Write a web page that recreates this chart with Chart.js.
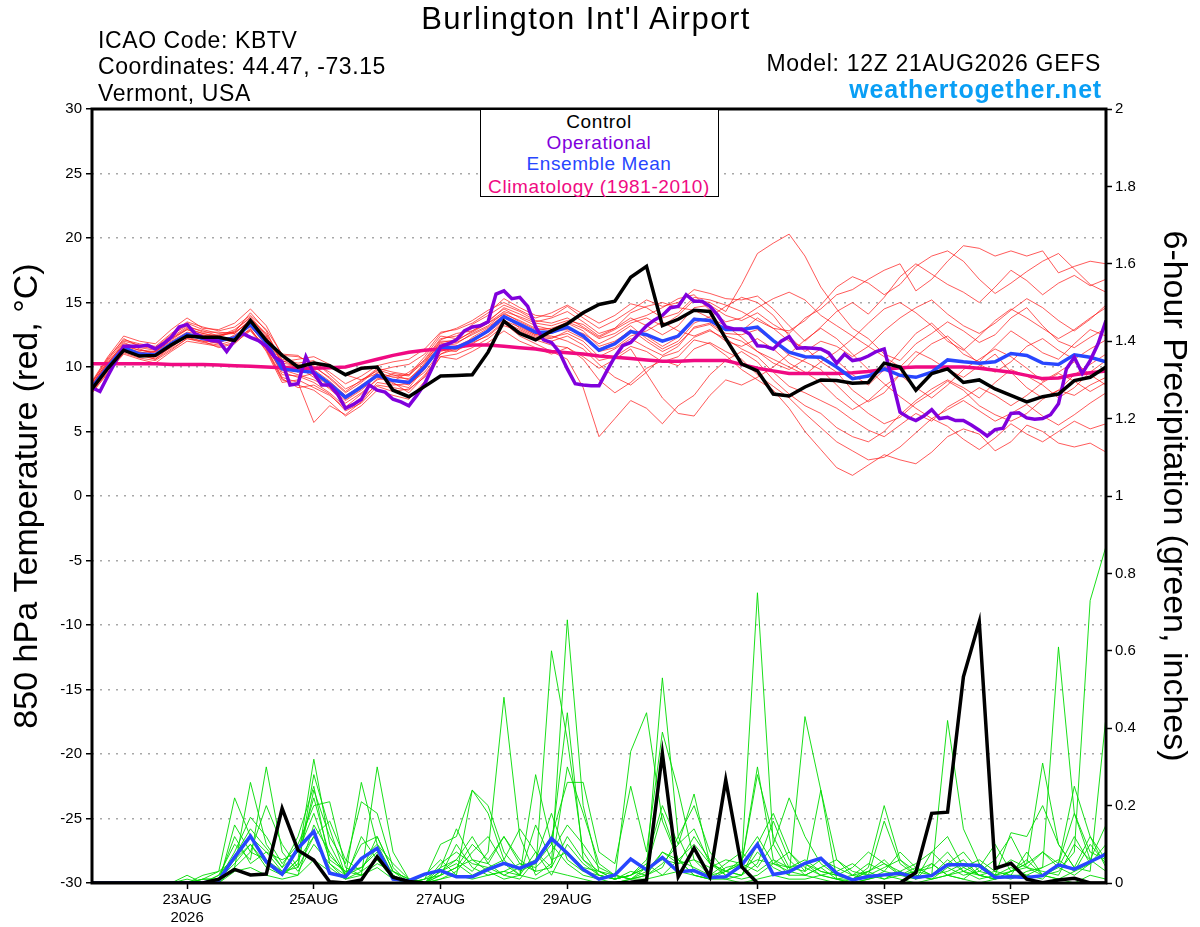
<!DOCTYPE html>
<html lang="en">
<head>
<meta charset="UTF-8">
<title>Burlington Int'l Airport - GEFS 850 hPa temperature and precipitation</title>
<script src="https://cdn.jsdelivr.net/npm/chart.js@4.4.1/dist/chart.umd.min.js"></script>
<style>
  html, body { margin: 0; padding: 0; background: #fff; }
  #wrap { position: relative; width: 1200px; height: 927px; font-family: "Liberation Sans", Arial, sans-serif; color: #000; overflow: hidden; }
  #wrap canvas { position: absolute; left: 0; top: 0; }
  .txt { position: absolute; white-space: nowrap; line-height: 1; }
  .title { left: 586px; top: 3px; font-size: 31px; letter-spacing: 1.5px; transform: translateX(-50%); }
  .info { left: 98px; font-size: 23px; letter-spacing: 0.6px; }
  .right { right: 99px; font-size: 23px; letter-spacing: 0.7px; }
  .site { right: 98px; top: 77px; font-size: 25px; font-weight: bold; letter-spacing: 0.8px; color: #0a9ff5; }
  #legendBox { position: absolute; left: 480px; top: 109px; width: 237px; height: 86px; border: 1px solid #000; background: #fff; }
  .leg { left: 599px; font-size: 19px; letter-spacing: 0.6px; transform: translateX(-50%); }
</style>
</head>
<body>
<div id="wrap">
  <canvas id="chart" width="1200" height="927"></canvas>

  <div class="txt title">Burlington Int'l Airport</div>
  <div class="txt info" style="top:29px">ICAO Code: KBTV</div>
  <div class="txt info" style="top:55px">Coordinates: 44.47, -73.15</div>
  <div class="txt info" style="top:82px">Vermont, USA</div>
  <div class="txt right" style="top:52px">Model: 12Z 21AUG2026 GEFS</div>
  <div class="txt site">weathertogether.net</div>

  <div id="legendBox"></div>
  <div class="txt leg" style="top:112px;color:#000">Control</div>
  <div class="txt leg" style="top:133px;color:#8000dc">Operational</div>
  <div class="txt leg" style="top:154px;color:#2846ff">Ensemble Mean</div>
  <div class="txt leg" style="top:177px;color:#f00a82">Climatology (1981-2010)</div>
</div>

<script>
    // time axis: hours after 12Z 21AUG2026, members every 6 h, operational every 3 h
    var memberStep = 6;
    var opStep = 3;
    var tickHours = [36, 84, 132, 180, 252, 300, 348];
    var tickLabels = [['23AUG', '2026'], '25AUG', '27AUG', '29AUG', '1SEP', '3SEP', '5SEP'];

    // 850 hPa temperature (C)
    var controlTemp = [8.3, 9.9, 11.3, 10.85, 10.9, 11.7, 12.4, 12.3, 12.3, 12.05, 13.6, 12.05,
        10.9, 10.0, 10.3, 10.1, 9.4, 9.9, 10.0, 8.2, 7.7, 8.5, 9.3,
        9.35, 9.4, 11.15, 13.55, 12.6, 12.1, 12.8, 13.35, 14.2, 14.85, 15.1, 16.95, 17.8, 13.2, 13.7, 14.4, 14.3, 12.2, 10.25, 9.7, 7.9, 7.75,
        8.45, 9.0, 8.95, 8.75, 8.8, 10.3, 10.0, 8.2, 9.5, 9.85, 8.8, 9.0, 8.3, 7.8, 7.3, 7.7, 7.9, 8.95, 9.2, 10.0];

    var meanTemp = [8.45, 10.0, 11.5, 11.0, 10.95, 11.8, 12.55, 12.2, 12.05, 12.25, 13.3, 11.9,
        9.85, 9.7, 9.6, 8.7, 7.65, 8.45, 9.35, 8.95, 8.8, 10.0, 11.55,
        11.5, 12.05, 12.8, 13.9, 13.3, 12.7, 12.7, 13.1, 12.4, 11.3, 11.8, 12.75, 12.5, 12.0, 12.4, 13.7, 13.6, 12.9, 12.9, 13.1, 12.05, 11.15,
        10.8, 10.75, 10.0, 9.1, 9.3, 9.85, 9.35, 9.2, 9.6, 10.55, 10.4, 10.3, 10.4, 11.05, 10.9, 10.3, 10.2, 10.95, 10.75, 10.4];

    var climTemp = [10.25, 10.25, 10.25, 10.25, 10.25, 10.2, 10.2, 10.2, 10.15, 10.1, 10.05, 10.0,
        9.95, 9.9, 9.9, 9.95, 10.0, 10.3, 10.6, 10.9, 11.15, 11.3, 11.4,
        11.55, 11.7, 11.7, 11.6, 11.5, 11.4, 11.2, 11.1, 11.0, 10.85, 10.75, 10.65, 10.55, 10.45, 10.45, 10.5, 10.5, 10.5, 10.2, 9.9, 9.7, 9.5,
        9.5, 9.5, 9.5, 9.55, 9.65, 9.8, 9.95, 10.0, 10.0, 10.0, 10.0, 9.9, 9.75, 9.6, 9.35, 9.1, 9.15, 9.4, 9.55, 9.7];

    var opTemp = [8.4, 8.1, 9.3, 10.45, 11.6, 11.6, 11.6, 11.7, 11.4, 11.8, 12.3, 13.1, 13.3, 12.6, 12.3, 12.05,
        12.0, 11.2, 12.05, 12.6, 12.3, 12.05, 11.6, 10.8, 10.4, 8.6, 8.7, 10.8, 9.5, 8.6, 8.6, 7.9,
        6.8, 7.1, 7.5, 8.6, 8.2, 8.05, 7.5, 7.3, 7.0, 7.8, 8.7, 10.0, 11.6, 11.8, 12.1, 12.8,
        13.1, 13.2, 13.5, 15.65, 15.9, 15.3, 15.4, 14.7, 13.1, 12.1, 11.9, 11.15, 9.85, 8.7, 8.6, 8.55,
        8.55, 9.7, 10.8, 11.65, 11.9, 12.55, 13.2, 13.65, 14.0, 14.6, 14.7, 15.6, 15.1, 15.1, 14.7, 14.0,
        13.1, 12.95, 12.95, 12.55, 11.65, 11.6, 11.4, 12.0, 12.35, 11.45, 11.5, 11.45, 11.4, 11.1, 10.3, 11.0,
        10.5, 10.6, 10.85, 11.2, 11.4, 9.0, 6.5, 6.1, 5.85, 6.2, 6.7, 6.0, 6.1, 5.85, 5.85, 5.5,
        5.1, 4.65, 5.15, 5.25, 6.4, 6.45, 6.05, 5.95, 6.0, 6.3, 7.15, 9.85, 10.75, 9.5, 10.5, 11.8, 13.6];

    var tempMembers = [
        [8.5, 10.3, 11.9, 11.4, 11.0, 12.2, 13.0, 12.6, 12.3, 12.8, 13.9, 12.5, 10.5, 10.0, 9.2, 8.3, 7.2, 8.0, 9.0, 9.5, 9.3, 10.6, 12.2,
         12.4, 13.0, 13.6, 14.5, 13.8, 13.2, 12.9, 13.5, 13.0, 12.2, 12.6, 13.4, 13.8, 13.2, 14.0, 15.2, 15.0, 14.3, 16.4, 18.8, 19.6, 20.3,
         18.6, 16.2, 14.5, 13.0, 12.2, 11.0, 10.5, 11.8, 12.6, 13.5, 12.8, 11.9, 12.5, 13.8, 14.6, 13.2, 12.0, 11.5, 12.3, 13.0],
        [8.0, 9.6, 11.0, 10.6, 10.3, 11.2, 12.0, 11.8, 11.6, 11.9, 12.8, 11.3, 9.0, 8.6, 8.2, 7.3, 6.2, 7.0, 8.2, 7.8, 7.5, 8.9, 10.8,
         11.0, 11.5, 12.2, 13.2, 12.8, 12.2, 12.0, 12.4, 11.7, 10.5, 10.8, 11.6, 11.2, 10.4, 10.8, 12.1, 11.8, 10.9, 9.8, 9.0, 8.2, 6.8,
         5.0, 3.6, 2.2, 1.6, 2.4, 3.2, 2.8, 2.5, 3.4, 4.6, 5.2, 4.8, 3.5, 4.2, 5.5, 5.0, 4.1, 3.8, 4.1, 3.4],
        [8.8, 10.6, 12.2, 11.6, 11.4, 12.4, 13.4, 12.9, 12.6, 12.7, 14.2, 12.8, 10.2, 9.6, 10.1, 9.1, 8.0, 8.8, 9.8, 9.4, 9.0, 10.3, 12.0,
         12.0, 12.8, 13.5, 14.6, 14.1, 13.5, 13.8, 14.3, 13.5, 12.6, 13.0, 13.8, 13.2, 12.5, 13.2, 14.6, 14.8, 14.0, 13.6, 14.2, 13.3, 12.6,
         13.8, 14.5, 15.6, 16.0, 16.8, 17.5, 18.0, 15.9, 16.8, 18.2, 19.4, 19.2, 18.6, 19.0, 18.6, 19.0, 17.3, 17.8, 18.2, 18.0],
        [8.3, 9.9, 11.3, 10.9, 10.6, 11.6, 12.3, 12.0, 11.9, 12.4, 13.2, 11.6, 9.6, 9.2, 9.5, 8.6, 7.5, 8.3, 9.6, 9.2, 9.1, 10.1, 11.3,
         11.2, 12.3, 13.0, 14.0, 13.0, 12.4, 12.3, 12.6, 12.0, 10.8, 11.4, 12.2, 11.5, 10.9, 11.6, 13.1, 13.4, 12.6, 12.5, 12.9, 12.0, 10.9,
         10.4, 9.8, 8.6, 7.4, 6.4, 5.6, 6.1, 7.2, 8.0, 8.9, 8.2, 7.0, 6.3, 5.8, 6.4, 7.5, 8.2, 7.8, 8.6, 9.2],
        [8.9, 10.8, 12.4, 12.0, 11.8, 12.9, 13.8, 13.0, 12.9, 13.4, 14.5, 13.2, 10.9, 10.8, 10.3, 9.6, 8.7, 9.3, 10.1, 10.4, 10.6, 11.4, 12.7,
         12.9, 13.4, 14.2, 15.3, 14.6, 14.0, 13.9, 14.7, 13.8, 13.0, 13.6, 14.4, 15.2, 14.7, 15.0, 16.0, 15.7, 15.3, 15.2, 15.5, 14.5, 13.2,
         12.0, 13.1, 14.3, 15.0, 14.1, 15.4, 17.0, 18.0, 17.2, 16.4, 15.8, 15.0, 16.2, 17.5, 16.7, 15.6, 16.5, 17.1, 16.3, 16.8],
        [8.1, 9.7, 11.4, 11.2, 10.8, 11.5, 12.4, 12.3, 12.2, 12.0, 13.0, 11.2, 8.8, 9.0, 8.4, 7.8, 6.8, 7.6, 8.6, 8.4, 8.2, 9.4, 11.0,
         11.4, 11.9, 12.4, 13.4, 12.4, 11.8, 11.2, 10.6, 8.4, 4.6, 6.0, 7.4, 6.8, 5.6, 7.0, 7.8, 9.4, 10.5, 11.2, 10.4, 9.0, 7.9,
         7.0, 6.4, 5.3, 4.6, 4.2, 5.0, 6.3, 7.4, 8.3, 9.0, 8.4, 7.6, 8.8, 9.8, 9.3, 8.6, 7.6, 8.4, 9.6, 10.5],
        [8.6, 10.1, 11.6, 11.1, 11.2, 12.0, 12.7, 12.5, 12.1, 12.2, 13.5, 12.1, 10.0, 10.2, 9.8, 8.9, 7.8, 8.5, 9.2, 9.0, 8.6, 9.8, 11.6,
         11.8, 12.6, 13.2, 14.2, 13.5, 12.9, 13.0, 13.4, 12.8, 11.6, 12.0, 12.8, 12.4, 11.6, 12.3, 13.8, 13.5, 13.0, 12.8, 13.8, 13.0, 12.0,
         11.5, 10.4, 9.6, 8.2, 7.3, 8.0, 9.4, 10.8, 11.8, 12.4, 11.4, 10.2, 9.6, 10.4, 11.6, 12.2, 11.3, 10.6, 11.4, 12.1],
        [8.4, 10.2, 11.8, 11.5, 11.3, 12.1, 12.9, 12.4, 12.5, 12.6, 13.6, 12.3, 10.4, 10.6, 10.8, 10.2, 9.4, 9.0, 9.5, 8.8, 8.0, 9.3, 11.0,
         11.6, 12.0, 12.7, 13.6, 13.1, 12.5, 12.6, 13.1, 12.4, 11.2, 11.5, 12.4, 12.8, 13.5, 12.8, 12.4, 12.9, 12.0, 11.6, 12.2, 11.4, 10.3,
         9.6, 8.8, 7.6, 6.7, 7.4, 8.5, 9.4, 8.4, 7.6, 8.6, 9.8, 10.6, 11.4, 10.8, 9.9, 8.9, 9.6, 10.4, 9.4, 8.6],
        [8.2, 9.8, 11.2, 10.8, 10.9, 11.9, 12.6, 12.1, 11.8, 12.5, 13.1, 11.8, 9.4, 9.3, 8.8, 8.0, 6.9, 7.9, 9.1, 8.9, 9.6, 10.5, 12.1,
         12.6, 12.8, 13.4, 14.1, 13.6, 13.0, 12.8, 12.9, 12.6, 11.8, 12.4, 13.2, 12.2, 11.4, 12.0, 13.4, 13.9, 14.7, 15.4, 15.0, 14.0, 12.4,
         11.2, 12.0, 11.6, 10.8, 11.6, 12.8, 13.8, 14.6, 15.2, 14.1, 13.2, 12.6, 13.4, 14.4, 15.3, 14.6, 13.6, 12.8, 13.7, 14.8],
        [8.7, 10.4, 11.7, 11.3, 11.1, 12.3, 13.1, 12.8, 12.4, 12.9, 13.8, 12.4, 9.8, 9.4, 9.0, 8.4, 7.4, 8.2, 9.3, 9.0, 8.9, 10.2, 11.8,
         11.9, 12.5, 13.1, 14.0, 13.2, 12.5, 12.4, 12.0, 11.4, 10.2, 9.2, 8.6, 9.6, 10.8, 11.2, 12.3, 12.8, 12.2, 11.4, 10.8, 9.6, 8.5,
         8.0, 7.4, 6.8, 5.9, 5.1, 4.6, 5.5, 6.4, 5.8, 6.9, 7.6, 8.4, 7.8, 7.0, 7.8, 8.8, 9.5, 8.9, 8.1, 8.8],
        [8.5, 10.0, 11.5, 11.0, 10.7, 11.7, 12.5, 12.2, 12.0, 12.3, 13.4, 12.0, 10.1, 9.9, 9.6, 8.8, 7.7, 8.6, 9.4, 8.7, 8.4, 9.9, 11.4,
         11.3, 11.8, 12.5, 13.5, 12.9, 12.3, 12.2, 12.8, 12.2, 11.4, 11.9, 12.9, 12.0, 11.2, 11.8, 13.0, 13.3, 12.4, 12.0, 11.2, 10.3, 9.8,
         10.6, 11.4, 10.5, 9.4, 8.6, 9.8, 11.2, 12.6, 13.4, 12.2, 11.0, 10.4, 11.6, 12.8, 12.0, 11.1, 10.6, 11.8, 12.9, 12.4],
        [8.6, 10.5, 12.0, 11.7, 11.5, 12.5, 13.2, 12.7, 12.7, 12.6, 13.7, 12.6, 10.6, 10.3, 10.5, 9.4, 8.3, 8.9, 9.9, 9.6, 9.4, 10.8, 12.4,
         12.2, 13.3, 14.0, 14.8, 14.3, 13.6, 13.4, 13.8, 13.1, 12.3, 12.9, 13.6, 14.0, 14.6, 15.3, 15.6, 14.4, 13.5, 13.8, 14.6, 15.3, 15.8,
         15.2, 14.0, 13.2, 12.4, 11.6, 10.8, 10.0, 11.2, 10.6, 9.8, 9.2, 10.1, 11.0, 9.6, 8.4, 7.6, 8.2, 9.4, 10.2, 11.0],
        [8.3, 9.8, 11.4, 11.0, 10.6, 11.4, 12.2, 11.9, 11.7, 12.1, 12.9, 11.5, 9.2, 8.8, 5.7, 7.0, 6.3, 7.3, 8.8, 8.6, 8.7, 9.6, 11.2,
         11.6, 12.2, 12.8, 13.7, 12.6, 12.1, 11.7, 11.5, 10.6, 9.0, 8.0, 8.8, 9.9, 10.5, 10.1, 11.4, 11.9, 11.2, 10.6, 9.4, 8.5, 7.6,
         6.4, 5.3, 4.2, 3.5, 2.8, 3.0, 3.8, 4.9, 6.0, 5.4, 4.4, 3.6, 4.5, 5.6, 4.8, 4.2, 5.0, 5.8, 5.2, 5.6],
        [8.8, 10.7, 12.1, 11.8, 11.6, 12.6, 13.5, 13.1, 12.8, 13.1, 14.0, 12.9, 11.0, 10.9, 10.0, 9.2, 8.1, 9.0, 9.7, 10.0, 10.2, 11.0, 12.6,
         13.0, 13.6, 14.4, 15.0, 14.4, 13.8, 14.2, 14.8, 14.1, 13.4, 14.0, 14.9, 14.6, 13.8, 14.2, 15.4, 15.2, 14.8, 14.3, 13.6, 13.0, 12.8,
         13.6, 14.8, 16.2, 17.0, 16.5, 15.6, 16.4, 17.8, 18.6, 19.0, 18.2, 16.8, 15.7, 16.5, 17.4, 18.2, 18.8, 17.6, 16.4, 15.8],
        [8.0, 9.5, 11.1, 10.7, 10.5, 11.3, 12.2, 12.0, 11.5, 11.8, 12.9, 11.4, 9.1, 8.4, 8.6, 7.9, 6.6, 7.2, 8.5, 8.1, 8.3, 9.2, 10.8,
         10.6, 11.2, 11.9, 12.8, 12.0, 11.5, 11.0, 11.5, 10.8, 9.9, 10.6, 11.4, 9.5, 7.6, 6.4, 6.2, 7.8, 9.0, 8.6, 9.2, 10.0, 11.0,
         12.1, 13.0, 12.2, 11.0, 9.8, 8.7, 7.7, 6.8, 6.0, 6.7, 7.4, 6.6, 5.8, 6.4, 7.1, 6.2, 5.5, 6.3, 7.2, 8.0],
        [8.6, 10.3, 11.6, 11.3, 11.2, 12.2, 12.9, 12.6, 12.4, 12.7, 13.5, 12.2, 10.3, 10.1, 9.4, 8.5, 7.6, 8.4, 9.3, 9.3, 9.4, 10.4, 11.9,
         12.1, 12.7, 13.4, 14.3, 13.9, 13.4, 13.2, 13.6, 13.3, 12.4, 13.0, 14.2, 14.7, 15.0, 14.6, 14.4, 13.8, 13.2, 12.3, 11.2, 10.6, 10.0,
         9.4, 10.4, 11.2, 12.2, 13.4, 14.5, 15.0, 14.2, 13.2, 12.0, 11.3, 12.4, 13.6, 14.5, 13.8, 13.0, 12.2, 12.9, 13.8, 14.6]
    ];

    // 6-hour precipitation (inches)
    var controlPrecip = [0, 0, 0, 0, 0, 0, 0, 0, 0.01, 0.035, 0.021, 0.023,
        0.193, 0.085, 0.059, 0.003, 0, 0.008, 0.068, 0.015, 0.004, 0, 0,
        0, 0, 0, 0, 0, 0, 0, 0, 0, 0, 0, 0.002, 0.007, 0.335, 0.016, 0.09, 0.016, 0.266, 0.042, 0, 0, 0,
        0, 0, 0, 0, 0, 0, 0, 0.027, 0.18, 0.183, 0.533, 0.675, 0.038, 0.051, 0.01, 0.001, 0.008, 0.012, 0, 0];

    var meanPrecip = [0, 0, 0, 0, 0, 0, 0, 0, 0.007, 0.067, 0.121, 0.055,
        0.023, 0.09, 0.133, 0.025, 0.016, 0.063, 0.09, 0.01, 0.006, 0.023, 0.032,
        0.016, 0.016, 0.035, 0.051, 0.038, 0.055, 0.115, 0.077, 0.035, 0.01, 0.021, 0.062, 0.034, 0.066, 0.029, 0.032, 0.014, 0.016, 0.046, 0.1, 0.022, 0.029,
        0.051, 0.064, 0.025, 0.008, 0.017, 0.021, 0.025, 0.014, 0.019, 0.047, 0.047, 0.045, 0.014, 0.016, 0.014, 0.019, 0.047, 0.036, 0.055, 0.075];

    var precipMembers = [
        [0, 0, 0, 0, 0, 0, 0, 0.01, 0.03, 0.22, 0.12, 0.05, 0.02, 0.06, 0.32, 0.10, 0.02, 0.04, 0.08, 0.01, 0, 0, 0.04,
         0.06, 0.03, 0.08, 0.48, 0.12, 0.02, 0.05, 0.68, 0.20, 0.03, 0.01, 0.02, 0.05, 0.02, 0.06, 0.02, 0.01, 0.03, 0.05, 0.75, 0.10, 0.03,
         0.05, 0.02, 0.01, 0, 0.01, 0.02, 0.03, 0.01, 0.08, 0.12, 0.04, 0.02, 0.01, 0.03, 0.06, 0.02, 0.01, 0.03, 0.05, 0.08],
        [0, 0, 0, 0, 0, 0, 0.02, 0, 0, 0.04, 0.26, 0.10, 0.04, 0.12, 0.25, 0.05, 0.01, 0.03, 0.12, 0.03, 0, 0.01, 0.10,
         0.12, 0.24, 0.18, 0.06, 0.02, 0.28, 0.10, 0.44, 0.06, 0.02, 0.01, 0.02, 0.04, 0.53, 0.12, 0.03, 0.02, 0.01, 0.02, 0.08, 0.04, 0.02,
         0.02, 0.01, 0, 0.01, 0.03, 0.06, 0.02, 0.01, 0.05, 0.02, 0.01, 0.04, 0.10, 0.03, 0.05, 0.31, 0.10, 0.04, 0.12, 0.06],
        [0, 0, 0, 0, 0, 0, 0, 0, 0.02, 0.10, 0.06, 0.30, 0.08, 0.03, 0.10, 0.05, 0.02, 0.26, 0.10, 0.05, 0.01, 0, 0.02,
         0.04, 0.10, 0.06, 0.12, 0.05, 0.03, 0.60, 0.37, 0.08, 0.02, 0.01, 0.34, 0.44, 0.16, 0.06, 0.02, 0.01, 0.04, 0.05, 0.30, 0.06, 0.02,
         0.43, 0.24, 0.06, 0.02, 0.01, 0.03, 0.02, 0.04, 0.02, 0.42, 0.14, 0.05, 0.02, 0.01, 0.03, 0.04, 0.61, 0.18, 0.06, 0.15],
        [0, 0, 0, 0, 0, 0, 0, 0.01, 0.01, 0.08, 0.17, 0.12, 0.05, 0.10, 0.20, 0.21, 0.04, 0.02, 0.30, 0.08, 0.01, 0, 0.05,
         0.08, 0.05, 0.04, 0.02, 0.01, 0.06, 0.12, 0.26, 0.26, 0.08, 0.05, 0.25, 0.08, 0.39, 0.24, 0.06, 0.02, 0.03, 0.05, 0.28, 0.12, 0.04,
         0.06, 0.03, 0.02, 0.04, 0.08, 0.05, 0.03, 0.01, 0.02, 0.06, 0.03, 0.02, 0.01, 0.02, 0.08, 0.02, 0.03, 0.08, 0.73, 0.87],
        [0, 0, 0, 0, 0, 0, 0, 0, 0.01, 0.05, 0.10, 0.04, 0.02, 0.05, 0.24, 0.12, 0.05, 0.21, 0.18, 0.04, 0, 0.02, 0.06,
         0.02, 0.24, 0.20, 0.08, 0.03, 0.05, 0.10, 0.05, 0.02, 0.01, 0, 0.01, 0.03, 0.08, 0.06, 0.04, 0.02, 0.05, 0.08, 0.04, 0.10, 0.22,
         0.12, 0.05, 0.02, 0.01, 0.03, 0.05, 0.02, 0.03, 0.04, 0.08, 0.03, 0.01, 0.02, 0.13, 0.12, 0.20, 0.10, 0.04, 0.03, 0.43],
        [0, 0, 0, 0, 0, 0, 0, 0, 0, 0.15, 0.08, 0.06, 0.03, 0.02, 0.15, 0.08, 0.02, 0.06, 0.10, 0.02, 0, 0.01, 0.02,
         0.04, 0.06, 0.03, 0.01, 0.02, 0.08, 0.04, 0.12, 0.06, 0.03, 0.01, 0.02, 0.06, 0.20, 0.10, 0.14, 0.05, 0.03, 0.06, 0.12, 0.05, 0.04,
         0.03, 0.24, 0.01, 0.01, 0.04, 0.20, 0.06, 0.03, 0.02, 0.05, 0.08, 0.03, 0.02, 0.04, 0.02, 0.01, 0.05, 0.18, 0.08, 0.06],
        [0, 0, 0, 0, 0, 0, 0, 0.02, 0.03, 0.06, 0.12, 0.08, 0.06, 0.08, 0.18, 0.06, 0.03, 0.02, 0.05, 0.03, 0.01, 0, 0.03,
         0.05, 0.02, 0.04, 0.06, 0.14, 0.08, 0.02, 0.10, 0.05, 0.02, 0.01, 0.03, 0.02, 0.05, 0.10, 0.23, 0.05, 0.02, 0.04, 0.06, 0.05, 0.03,
         0.02, 0.04, 0.06, 0.03, 0.02, 0.16, 0.05, 0.02, 0.01, 0.04, 0.06, 0.02, 0.01, 0.03, 0.05, 0.08, 0.04, 0.02, 0.05, 0.10],
        [0, 0, 0, 0, 0, 0, 0, 0, 0.01, 0.04, 0.08, 0.20, 0.10, 0.04, 0.12, 0.04, 0.01, 0.12, 0.06, 0.02, 0, 0, 0.01,
         0.03, 0.08, 0.12, 0.05, 0.02, 0.15, 0.06, 0.08, 0.04, 0.03, 0.02, 0.01, 0.04, 0.18, 0.06, 0.10, 0.05, 0.03, 0.02, 0.10, 0.18, 0.08,
         0.04, 0.02, 0.03, 0.05, 0.02, 0.01, 0.03, 0.05, 0.08, 0.04, 0.02, 0.03, 0.06, 0.12, 0.04, 0.03, 0.02, 0.10, 0.06, 0.03],
        [0, 0, 0, 0, 0, 0, 0, 0, 0.01, 0.12, 0.05, 0.08, 0.03, 0.04, 0.28, 0.14, 0.02, 0.10, 0.12, 0.03, 0.01, 0, 0.03,
         0.06, 0.12, 0.05, 0.02, 0.04, 0.06, 0.18, 0.06, 0.03, 0.02, 0.01, 0.02, 0.04, 0.06, 0.05, 0.12, 0.06, 0.02, 0.01, 0.02, 0.05, 0.08,
         0.03, 0.06, 0.04, 0.02, 0.05, 0.03, 0.08, 0.04, 0.02, 0.03, 0.05, 0.02, 0.03, 0.06, 0.04, 0.02, 0.04, 0.12, 0.05, 0.08],
        [0, 0, 0, 0, 0, 0, 0.01, 0, 0.02, 0.07, 0.14, 0.09, 0.04, 0.08, 0.22, 0.07, 0.03, 0.04, 0.09, 0.02, 0, 0, 0.02,
         0.10, 0.04, 0.02, 0.03, 0.05, 0.04, 0.08, 0.15, 0.10, 0.04, 0.02, 0.01, 0.02, 0.08, 0.05, 0.06, 0.04, 0.06, 0.05, 0.03, 0.06, 0.04,
         0.05, 0.03, 0.02, 0.01, 0.02, 0.04, 0.06, 0.02, 0.01, 0.02, 0.04, 0.06, 0.03, 0.02, 0.02, 0.04, 0.06, 0.03, 0.10, 0.05],
        [0, 0, 0, 0, 0, 0, 0, 0, 0, 0.03, 0.04, 0.02, 0.01, 0.02, 0.06, 0.03, 0.01, 0.02, 0.04, 0.01, 0, 0, 0.01,
         0.02, 0.01, 0.02, 0.03, 0.02, 0.01, 0.03, 0.02, 0.01, 0, 0, 0.01, 0.01, 0.02, 0.03, 0.02, 0.01, 0.01, 0, 0.01, 0.02, 0.01,
         0.01, 0.02, 0.01, 0, 0.01, 0.02, 0.01, 0, 0.01, 0.02, 0.01, 0, 0.01, 0.02, 0.01, 0.02, 0.01, 0, 0.02, 0.01],
        [0, 0, 0, 0, 0, 0, 0, 0.01, 0.01, 0.06, 0.10, 0.05, 0.02, 0.06, 0.12, 0.16, 0.06, 0.03, 0.06, 0.01, 0, 0.01, 0.04,
         0.14, 0.06, 0.05, 0.12, 0.06, 0.03, 0.04, 0.30, 0.18, 0.05, 0.02, 0.01, 0.02, 0.04, 0.12, 0.20, 0.08, 0.03, 0.02, 0.05, 0.16, 0.06,
         0.02, 0.04, 0.01, 0.02, 0.03, 0.01, 0.02, 0.03, 0.05, 0.02, 0.03, 0.05, 0.02, 0.03, 0.04, 0.08, 0.05, 0.25, 0.12, 0.04]
    ];

    var fontFamily = '"Liberation Sans", Arial, sans-serif';

    function toPoints(values, step) {
        return values.map(function (v, i) { return { x: i * step, y: v }; });
    }

    function line(values, step, axis, color, width, order) {
        return {
            data: toPoints(values, step),
            yAxisID: axis,
            borderColor: color,
            borderWidth: width,
            pointRadius: 0,
            fill: false,
            order: order
        };
    }

    var datasets = [];
    precipMembers.forEach(function (m) { datasets.push(line(m, memberStep, 'y1', 'rgba(0, 220, 0, 0.9)', 1, 30)); });
    tempMembers.forEach(function (m) { datasets.push(line(m, memberStep, 'y', 'rgba(255, 20, 20, 0.7)', 1, 20)); });
    datasets.push(line(climTemp, memberStep, 'y', '#f00a82', 3.5, 6));
    datasets.push(line(meanTemp, memberStep, 'y', '#2846ff', 3.5, 5));
    datasets.push(line(opTemp, opStep, 'y', '#8000dc', 3.5, 4));
    datasets.push(line(controlTemp, memberStep, 'y', '#000000', 3.5, 3));
    datasets.push(line(meanPrecip, memberStep, 'y1', '#2846ff', 3.5, 5));
    datasets.push(line(controlPrecip, memberStep, 'y1', '#000000', 3.5, 2));

    // heavy frame round the plot area
    var framePlugin = {
        id: 'frame',
        afterDatasetsDraw: function (chart) {
            var a = chart.chartArea, ctx = chart.ctx;
            ctx.save();
            ctx.strokeStyle = '#000';
            ctx.lineWidth = 3;
            ctx.strokeRect(a.left, a.top, a.right - a.left, a.bottom - a.top);
            ctx.restore();
        }
    };

    new Chart(document.getElementById('chart'), {
        type: 'line',
        data: { datasets: datasets },
        options: {
            responsive: false,
            animation: false,
            devicePixelRatio: 1,
            layout: { padding: { top: 109, left: 0, right: 0, bottom: 0 } },
            plugins: { legend: { display: false }, tooltip: { enabled: false } },
            elements: { line: { tension: 0 } },
            scales: {
                x: {
                    type: 'linear', position: 'bottom', min: 0, max: 384,
                    afterBuildTicks: function (s) { s.ticks = tickHours.map(function (h) { return { value: h }; }); },
                    afterFit: function (s) { s.height = 44; },
                    ticks: {
                        autoSkip: false, maxRotation: 0, padding: 2, color: '#000',
                        font: { family: fontFamily, size: 15 },
                        callback: function (v) { return tickLabels[tickHours.indexOf(v)]; }
                    },
                    grid: { drawOnChartArea: false, tickLength: 6, tickColor: '#000', tickWidth: 1.5 },
                    border: { display: false }
                },
                y: {
                    type: 'linear', position: 'left', min: -30, max: 30,
                    afterFit: function (s) { s.width = 92; },
                    ticks: { stepSize: 5, padding: 4, color: '#000', font: { family: fontFamily, size: 15 } },
                    grid: { color: '#a8a8a8', lineWidth: 1.5, tickLength: 6, tickColor: '#000', tickWidth: 1.5 },
                    border: { display: false, dash: [2, 6] },
                    title: {
                        display: true, text: '850 hPa Temperature (red, \u00B0C)', color: '#000',
                        font: { family: fontFamily, size: 34 }, padding: { top: 7, bottom: 0 }
                    }
                },
                y1: {
                    type: 'linear', position: 'right', min: 0, max: 2,
                    afterFit: function (s) { s.width = 94; },
                    ticks: {
                        stepSize: 0.2, padding: 3, color: '#000', font: { family: fontFamily, size: 15 },
                        callback: function (v) { return String(Math.round(v * 10) / 10); }
                    },
                    grid: { drawOnChartArea: false, tickLength: 6, tickColor: '#000', tickWidth: 1.5 },
                    border: { display: false },
                    title: {
                        display: true, text: '6-hour Precipitation (green, inches)', color: '#000',
                        font: { family: fontFamily, size: 34 }, padding: { top: 6, bottom: 0 }
                    }
                }
            }
        },
        plugins: [framePlugin]
    });
</script>
</body>
</html>
